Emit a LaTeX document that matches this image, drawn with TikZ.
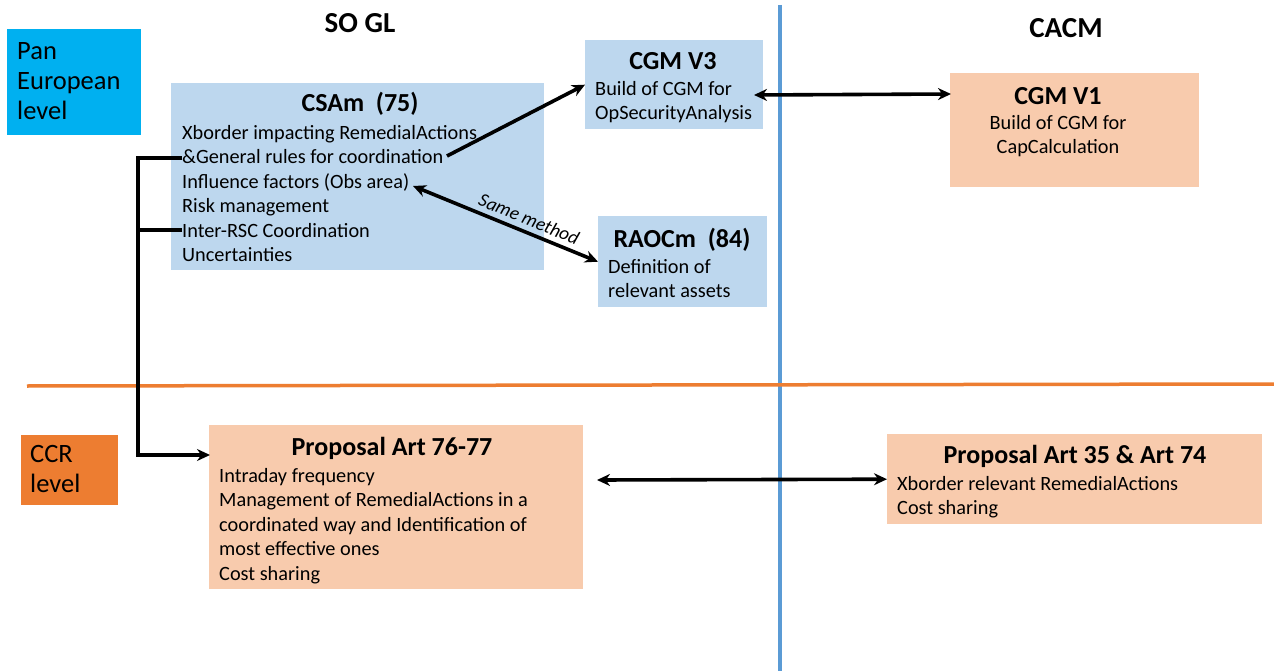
\documentclass[tikz,border=0pt]{standalone}
\usepackage{fontspec}
\setmainfont{Carlito}
\usetikzlibrary{arrows.meta}
\definecolor{lblue}{RGB}{189,215,238}
\definecolor{peach}{RGB}{248,203,173}
\definecolor{cyanbox}{RGB}{0,176,240}
\definecolor{orangebox}{RGB}{237,125,49}
\definecolor{vline}{RGB}{91,155,213}
\definecolor{hline}{RGB}{237,125,49}
\tikzset{
  boxbase/.style={draw=none, inner sep=0pt, anchor=north west},
  bluebox/.style={boxbase, fill=lblue},
  peachbox/.style={boxbase, fill=peach},
  titletxt/.style={inner sep=0pt, font=\fontsize{26}{30}\selectfont\bfseries},
  bodytxt/.style={inner sep=0pt, anchor=north west, align=left, font=\fontsize{20.3}{24.5}\selectfont},
  bodyc/.style={inner sep=0pt, anchor=north, align=center, font=\fontsize{20.3}{24.5}\selectfont},
  leveltxt/.style={inner sep=0pt, anchor=north west, align=left, font=\fontsize{26.5}{30}\selectfont},
  headtxt/.style={inner sep=0pt, font=\fontsize{29}{32}\selectfont\bfseries},
  conn/.style={line width=3.6pt, -{Stealth[length=13pt,width=12pt]}},
  dconn/.style={line width=3.6pt, {Stealth[length=13pt,width=12pt]}-{Stealth[length=13pt,width=12pt]}},
  plainline/.style={line width=3.6pt}
}
\begin{document}
\begin{tikzpicture}[x=1pt,y=-1pt]
\useasboundingbox (0,0) rectangle (1274,671);
\fill[white] (0,0) rectangle (1274,671);

% divider lines
\coordinate (vtop) at (780,5);
\coordinate (vbot) at (780,671);
\coordinate (hl) at (27,386);
\coordinate (hr) at (1274,384);
\draw[vline, line width=3.5pt] (vtop) -- (vbot);
\draw[hline, line width=3.5pt] (hl) -- (hr);

% headings
\node[headtxt] (sogl) at (360,23) {SO GL};
\node[headtxt] (cacm) at (1066,28) {CACM};

% level boxes
\node[boxbase, fill=cyanbox, minimum width=134pt, minimum height=106pt] (pan) at (7,29) {};
\node[leveltxt] (pantxt) at (17,42) {Pan\\European\\level};
\node[boxbase, fill=orangebox, minimum width=97pt, minimum height=70pt] (ccr) at (21,435) {};
\node[leveltxt] (ccrtxt) at (30,445) {CCR\\level};

% CSAm
\node[bluebox, minimum width=373pt, minimum height=187pt] (csam) at (171,83) {};
\node[titletxt] (csamt) at (360,104) {CSAm~~(75)};
\node[bodytxt] (csamb) at (182,125) {Xborder impacting RemedialActions\\\&General rules for coordination\\Influence factors (Obs area)\\Risk management\\Inter-RSC Coordination\\Uncertainties};

% CGM V3
\node[bluebox, minimum width=178pt, minimum height=89pt] (cgm3) at (585,40) {};
\node[titletxt] (cgm3t) at (673,61) {CGM V3};
\node[bodytxt] (cgm3b) at (595,81) {Build of CGM for\\OpSecurityAnalysis};

% RAOCm
\node[bluebox, minimum width=169pt, minimum height=91pt] (raocm) at (598,216) {};
\node[titletxt] (raocmt) at (682,240) {RAOCm~~(84)};
\node[bodytxt] (raocmb) at (608,259) {Definition of\\relevant assets};

% CGM V1
\node[peachbox, minimum width=249pt, minimum height=114pt] (cgm1) at (950,73) {};
\node[titletxt] (cgm1t) at (1058,96) {CGM V1};
\node[bodyc] (cgm1b) at (1058,115) {Build of CGM for\\CapCalculation};

% Proposal 76-77
\node[peachbox, minimum width=374pt, minimum height=164pt] (p7677) at (209,425) {};
\node[titletxt] (p7677t) at (392,448) {Proposal Art 76-77};
\node[bodytxt] (p7677b) at (219,468) {Intraday frequency\\Management of RemedialActions in a\\coordinated way and Identification of\\most effective ones\\Cost sharing};

% Proposal 35 & 74
\node[peachbox, minimum width=375pt, minimum height=90pt] (p35) at (887,434) {};
\node[titletxt] (p35t) at (1075,456) {Proposal Art 35 \& Art 74};
\node[bodytxt] (p35b) at (897,476) {Xborder relevant RemedialActions\\Cost sharing};

% connectors
\coordinate (genend) at (447,156);
\draw[conn] (genend) -- (cgm3.west);

\coordinate (inflend) at (413,186);
\draw[dconn] (inflend) -- node[sloped, above, pos=0.6, inner sep=0pt, yshift=5pt, font=\fontsize{19}{20}\selectfont\itshape] (samem) {Same method} (raocm.west);

\coordinate (v3r) at (754,95);
\coordinate (v1l) at (951,94);
\draw[dconn] (v3r) -- (v1l);

\coordinate (p77r) at (597,480);
\draw[dconn] (p77r) -- (p35.west);

\coordinate (s1) at (182,158);
\coordinate (s2) at (182,230);
\coordinate (b1) at (138,158);
\coordinate (b2) at (138,230);
\coordinate (ptarget) at (210,455);
\draw[plainline] (s2) -- (b2);
\draw[conn] (s1) -- (b1) |- (ptarget);
\end{tikzpicture}
\end{document}
